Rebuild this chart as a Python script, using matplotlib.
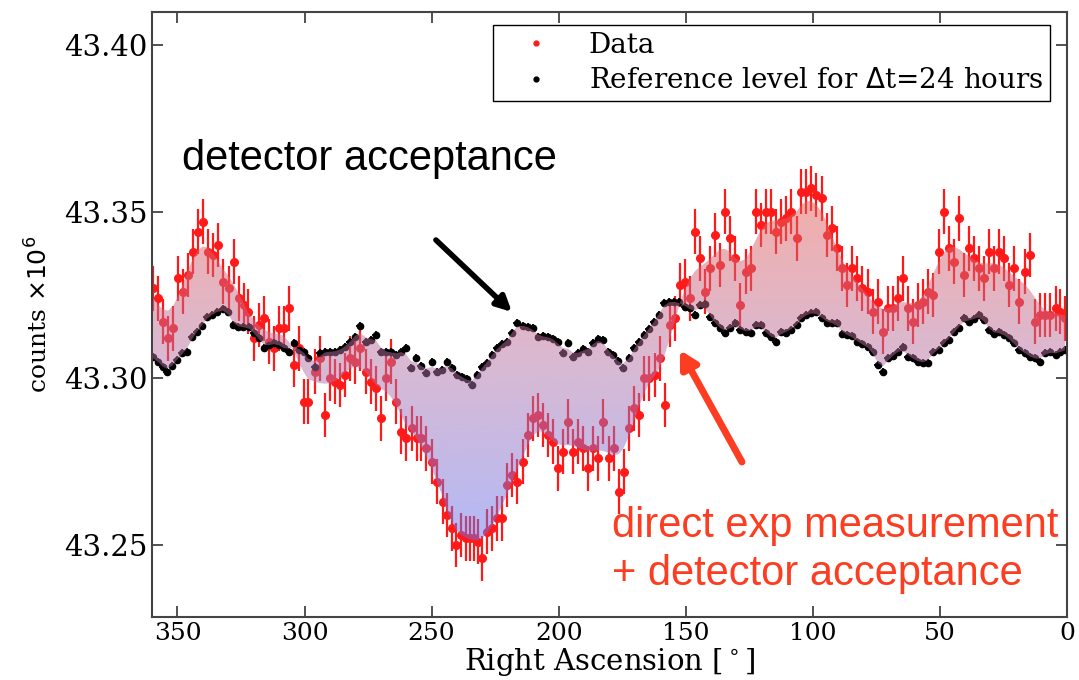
import matplotlib.pyplot as plt
import numpy as np
from matplotlib.colors import LinearSegmentedColormap
from matplotlib.lines import Line2D

DATA_RA = [
    359.6, 357.6, 355.7, 353.7, 351.7, 349.8, 347.8, 345.8, 343.9, 341.9,
    339.9, 338.0, 336.0, 334.0, 332.1, 329.7, 327.7, 325.8, 323.8, 322.2,
    319.9, 317.9, 315.9, 314.0, 312.0, 310.0, 308.1, 306.1, 304.1, 302.2,
    300.2, 298.6, 295.9, 293.9, 291.9, 290.0, 288.0, 286.0, 284.1, 282.1,
    280.1, 278.2, 275.8, 273.8, 271.9, 269.9, 267.9, 266.0, 264.0, 262.0,
    260.1, 257.7, 255.8, 254.2, 252.2, 249.8, 247.9, 245.5, 243.9, 242.0,
    240.4, 238.4, 236.5, 234.9, 233.3, 231.8, 230.2, 228.2, 226.2, 224.3,
    222.3, 220.3, 218.4, 216.4, 214.0, 212.1, 210.1, 208.1, 206.2, 204.2,
    202.2, 200.3, 198.3, 196.3, 194.4, 192.4, 190.4, 188.5, 186.5, 184.5,
    182.6, 180.2, 178.2, 176.3, 174.3, 172.3, 170.4, 168.4, 166.4, 164.5,
    162.1, 160.1, 158.2, 156.2, 154.2, 152.3, 150.3, 148.3, 146.4, 144.4,
    142.5, 140.5, 138.5, 136.5, 134.6, 132.6, 130.6, 128.7, 126.3, 124.4,
    122.4, 120.4, 118.5, 116.5, 114.5, 112.6, 110.6, 108.6, 106.3, 104.7,
    102.7, 100.8, 98.8, 96.4, 94.4, 92.5, 90.5, 88.5, 86.6, 84.6,
    82.6, 80.7, 78.3, 76.4, 74.4, 72.4, 70.5, 68.5, 66.5, 64.6,
    62.6, 60.6, 58.7, 56.7, 54.7, 52.8, 50.4, 48.4, 46.5, 44.5,
    42.5, 40.6, 38.6, 36.6, 34.7, 32.7, 30.7, 28.8, 26.8, 24.8,
    22.9, 20.9, 18.9, 16.6, 14.6, 12.6, 10.7, 8.7, 6.7, 4.4,
    2.8, 0.8,
]
DATA_COUNTS = [
    43.327, 43.324, 43.317, 43.312, 43.315, 43.330, 43.326, 43.331, 43.338, 43.344,
    43.347, 43.338, 43.337, 43.340, 43.329, 43.327, 43.335, 43.324, 43.322, 43.320,
    43.312, 43.316, 43.318, 43.311, 43.309, 43.315, 43.315, 43.321, 43.304, 43.309,
    43.293, 43.293, 43.302, 43.306, 43.289, 43.300, 43.299, 43.298, 43.301, 43.306,
    43.305, 43.309, 43.302, 43.299, 43.297, 43.288, 43.300, 43.305, 43.293, 43.284,
    43.282, 43.285, 43.282, 43.282, 43.279, 43.275, 43.269, 43.263, 43.259, 43.255,
    43.250, 43.253, 43.252, 43.252, 43.252, 43.251, 43.246, 43.254, 43.255, 43.258,
    43.258, 43.268, 43.271, 43.269, 43.275, 43.283, 43.288, 43.289, 43.286, 43.283,
    43.281, 43.273, 43.278, 43.287, 43.278, 43.281, 43.279, 43.273, 43.279, 43.276,
    43.287, 43.276, 43.279, 43.266, 43.272, 43.285, 43.291, 43.289, 43.300, 43.300,
    43.301, 43.306, 43.292, 43.316, 43.318, 43.328, 43.329, 43.324, 43.344, 43.336,
    43.326, 43.333, 43.343, 43.334, 43.350, 43.342, 43.336, 43.322, 43.332, 43.333,
    43.350, 43.346, 43.350, 43.350, 43.344, 43.347, 43.348, 43.350, 43.342, 43.356,
    43.356, 43.357, 43.355, 43.354, 43.343, 43.345, 43.339, 43.333, 43.328, 43.333,
    43.330, 43.327, 43.326, 43.320, 43.323, 43.314, 43.321, 43.321, 43.324, 43.330,
    43.321, 43.317, 43.322, 43.323, 43.326, 43.325, 43.338, 43.350, 43.339, 43.335,
    43.348, 43.331, 43.339, 43.336, 43.333, 43.330, 43.338, 43.333, 43.338, 43.336,
    43.328, 43.333, 43.323, 43.332, 43.337, 43.317, 43.319, 43.319, 43.319, 43.321,
    43.320, 43.318,
]
DATA_ERR = 0.0067

# reference level for dt = 24 h
REF_RA = [
    359.6, 357.6, 355.7, 354.1, 352.1, 350.2, 348.2, 346.2, 344.3, 342.3,
    340.3, 338.4, 336.4, 334.4, 332.1, 330.1, 328.1, 326.2, 324.2, 321.8,
    319.9, 317.9, 315.9, 314.0, 312.0, 310.0, 308.1, 306.1, 304.1, 302.2,
    300.2, 298.6, 295.9, 293.9, 291.9, 290.0, 288.0, 286.0, 284.1, 282.1,
    280.1, 278.2, 275.8, 273.8, 271.9, 269.9, 267.9, 266.0, 264.0, 262.0,
    260.1, 258.1, 256.1, 254.2, 252.2, 249.8, 247.9, 245.9, 243.9, 242.0,
    240.0, 238.0, 236.1, 234.1, 232.1, 230.2, 228.2, 226.2, 224.3, 222.3,
    220.3, 218.4, 216.4, 214.0, 212.1, 210.1, 208.1, 206.2, 204.2, 202.2,
    200.3, 198.3, 196.3, 194.4, 192.4, 190.4, 188.5, 186.5, 184.5, 182.6,
    180.6, 178.6, 176.7, 174.7, 172.3, 170.4, 168.4, 166.4, 164.5, 162.5,
    160.5, 158.6, 156.6, 154.6, 152.7, 150.3, 148.3, 146.4, 144.4, 142.5,
    140.5, 138.5, 136.5, 134.6, 132.6, 130.6, 128.7, 126.3, 124.4, 122.4,
    120.4, 118.5, 116.5, 114.5, 112.6, 110.6, 108.6, 106.3, 104.7, 102.7,
    100.8, 98.8, 96.4, 94.4, 92.5, 90.5, 88.5, 86.6, 84.6, 82.6,
    80.7, 78.3, 76.4, 74.4, 72.4, 70.5, 68.5, 66.5, 64.6, 62.6,
    60.6, 58.7, 56.7, 54.7, 52.8, 50.4, 48.4, 46.5, 44.5, 42.5,
    40.6, 38.6, 36.6, 34.7, 32.7, 30.7, 28.8, 26.8, 24.8, 22.9,
    20.9, 18.9, 16.6, 14.6, 12.6, 10.7, 8.7, 6.7, 4.4, 2.8,
    0.8,
]
REF_COUNTS = [
    43.3064, 43.3050, 43.3034, 43.3020, 43.3037, 43.3055, 43.3076, 43.3080, 43.3124, 43.3140,
    43.3157, 43.3184, 43.3190, 43.3200, 43.3208, 43.3200, 43.3160, 43.3154, 43.3154, 43.3154,
    43.3136, 43.3120, 43.3090, 43.3100, 43.3106, 43.3100, 43.3090, 43.3080, 43.3106, 43.3085,
    43.3080, 43.3060, 43.3034, 43.3076, 43.3080, 43.3080, 43.3080, 43.3085, 43.3094, 43.3110,
    43.3124, 43.3157, 43.3110, 43.3115, 43.3130, 43.3080, 43.3080, 43.3080, 43.3070, 43.3080,
    43.3090, 43.3030, 43.3060, 43.3037, 43.3016, 43.3050, 43.3020, 43.3025, 43.3050, 43.3030,
    43.3010, 43.3004, 43.2998, 43.2980, 43.3010, 43.3034, 43.3046, 43.3070, 43.3090, 43.3103,
    43.3110, 43.3136, 43.3166, 43.3157, 43.3154, 43.3150, 43.3124, 43.3127, 43.3124, 43.3118,
    43.3110, 43.3076, 43.3106, 43.3064, 43.3076, 43.3088, 43.3080, 43.3106, 43.3118, 43.3115,
    43.3080, 43.3070, 43.3052, 43.3030, 43.3060, 43.3090, 43.3110, 43.3130, 43.3148, 43.3170,
    43.3190, 43.3226, 43.3230, 43.3230, 43.3230, 43.3214, 43.3210, 43.3190, 43.3220, 43.3223,
    43.3184, 43.3166, 43.3150, 43.3136, 43.3150, 43.3166, 43.3145, 43.3140, 43.3136, 43.3160,
    43.3160, 43.3136, 43.3124, 43.3110, 43.3140, 43.3136, 43.3145, 43.3160, 43.3180, 43.3190,
    43.3196, 43.3200, 43.3180, 43.3166, 43.3166, 43.3166, 43.3133, 43.3130, 43.3127, 43.3110,
    43.3103, 43.3094, 43.3080, 43.3040, 43.3020, 43.3060, 43.3067, 43.3080, 43.3094, 43.3064,
    43.3060, 43.3050, 43.3046, 43.3046, 43.3080, 43.3085, 43.3106, 43.3115, 43.3140, 43.3150,
    43.3180, 43.3169, 43.3178, 43.3190, 43.3175, 43.3145, 43.3133, 43.3140, 43.3130, 43.3120,
    43.3106, 43.3085, 43.3076, 43.3064, 43.3060, 43.3050, 43.3076, 43.3080, 43.3070, 43.3080,
    43.3085,
]
REF_XERR = 1.4
REF_YERR = 0.0012

X_TICKS = [350, 300, 250, 200, 150, 100, 50, 0]
Y_TICKS = [43.25, 43.30, 43.35, 43.40]

SERIF = ["DejaVu Serif"]
NOTE_RED = "#fc3d21"


def smooth(values, sigma):
    half = int(4 * sigma)
    k = np.arange(-half, half + 1)
    kernel = np.exp(-0.5 * (k / sigma) ** 2)
    kernel /= kernel.sum()
    padded = np.pad(np.asarray(values, dtype=float), half, mode="edge")
    return np.convolve(padded, kernel, mode="valid")


fig = plt.figure(figsize=(10.79, 6.80), dpi=100)
ax = fig.add_axes([0.1409, 0.0926, 0.8480, 0.8898])

data_ra = np.array(DATA_RA)
data_y = np.array(DATA_COUNTS)
ref_ra = np.array(REF_RA)
ref_y = np.array(REF_COUNTS)

ax.errorbar(data_ra, data_y, yerr=DATA_ERR, fmt="o", color="#ff1a1a",
            ms=5.5, elinewidth=1.6, capsize=0, zorder=2)
ax.errorbar(ref_ra, ref_y, xerr=REF_XERR, yerr=REF_YERR, fmt="o", color="black",
            ms=4.5, elinewidth=1.3, capsize=0, zorder=2)

# shaded band between the smoothed data and the reference level
grid = np.linspace(0.8, 359.6, 1200)
data_s = np.interp(grid, data_ra[::-1], smooth(data_y, 2.0)[::-1])
ref_s = np.interp(grid, ref_ra[::-1], smooth(ref_y, 0.8)[::-1])
band = ax.fill_between(grid, ref_s, data_s, facecolor="none", edgecolor="none")

cmap = LinearSegmentedColormap.from_list(
    "band", [(0.0, "#6473f0"), (0.5, "#b473a5"), (1.0, "#ec5a4c")])
grad = np.linspace(0, 1, 256).reshape(-1, 1)
img = ax.imshow(grad, cmap=cmap, aspect="auto", origin="lower",
                extent=[0, 360, 43.25, 43.36], alpha=0.5, zorder=3,
                interpolation="bilinear")
img.set_clip_path(band.get_paths()[0], transform=ax.transData)

ax.set_xlim(360, 0)
ax.set_ylim(43.2284, 43.4099)
ax.set_xticks(X_TICKS)
ax.set_yticks(Y_TICKS)
ax.set_yticklabels([f"{v:.2f}" for v in Y_TICKS], fontfamily=SERIF, fontsize=21)
ax.set_xticklabels([str(v) for v in X_TICKS], fontfamily=SERIF, fontsize=18)
ax.tick_params(direction="in", length=8, width=1.2, top=True, right=True,
               colors="#333333", labelcolor="black")
for spine in ax.spines.values():
    spine.set_color("#444444")
    spine.set_linewidth(1.5)

ax.set_xlabel("Right Ascension [$^\\circ$]", fontfamily=SERIF, fontsize=21, labelpad=1)
ax.set_ylabel(r"counts $\times10^6$", fontfamily=SERIF, fontsize=18, labelpad=8)

handles = [
    Line2D([], [], marker="o", ls="", color="#ff1a1a", ms=3.5),
    Line2D([], [], marker="o", ls="", color="black", ms=3.5),
]
labels = ["Data", r"Reference level for $\Delta$t=24 hours"]
leg = ax.legend(handles, labels, loc="upper right", bbox_to_anchor=(0.9814, 0.9785),
                borderaxespad=0, prop={"family": SERIF, "size": 20}, numpoints=1,
                fancybox=False, framealpha=1, edgecolor="black",
                handlelength=2.6, handletextpad=0.6, borderpad=0.25, labelspacing=0.3)
leg.get_frame().set_linewidth(1.0)

ax.text(348.2, 43.3625, "detector acceptance", family="Liberation Sans",
        fontsize=30, color="black", va="baseline", ha="left", zorder=5)
ax.text(179.0, 43.2524, "direct exp measurement", family="Liberation Sans",
        fontsize=30, color=NOTE_RED, va="baseline", ha="left", zorder=5)
ax.text(179.0, 43.2380, "+ detector acceptance", family="Liberation Sans",
        fontsize=30, color=NOTE_RED, va="baseline", ha="left", zorder=5)

ax.annotate("", xy=(218.4, 43.3199), xytext=(248.3, 43.3415),
            arrowprops=dict(arrowstyle="-|>,head_length=0.9,head_width=0.45",
                            lw=4, color="black", shrinkA=0, shrinkB=0), zorder=5)
ax.annotate("", xy=(152.3, 43.3085), xytext=(127.9, 43.2749),
            arrowprops=dict(arrowstyle="-|>,head_length=1.0,head_width=0.55",
                            lw=5, color=NOTE_RED, shrinkA=0, shrinkB=0), zorder=5)

fig.savefig("out.png", dpi=100)
